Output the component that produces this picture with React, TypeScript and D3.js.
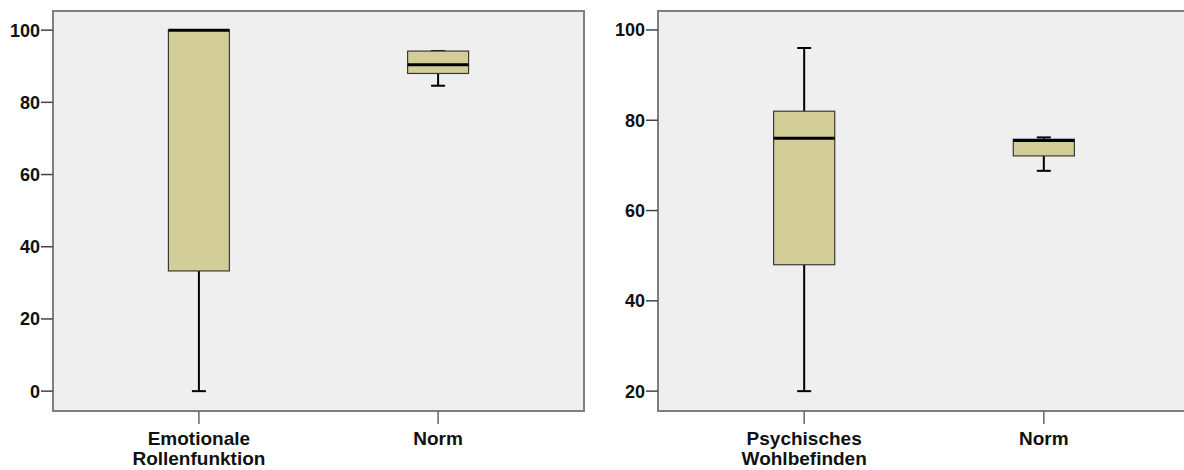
import { useEffect, useRef } from 'react'
import * as d3 from 'd3'

// left panel
const leftLabels = [['Emotionale', 'Rollenfunktion'], ['Norm']]
const leftMin = [0, 84.6]
const leftQ1 = [33.3, 88.0]
const leftMedian = [100, 90.4]
const leftQ3 = [100, 94.2]
const leftMax = [100, 94.2]
const leftTicks = [0, 20, 40, 60, 80, 100]

// right panel
const rightLabels = [['Psychisches', 'Wohlbefinden'], ['Norm']]
const rightMin = [20, 68.8]
const rightQ1 = [48, 72.1]
const rightMedian = [76, 75.5]
const rightQ3 = [82, 75.8]
const rightMax = [96, 76.2]
const rightTicks = [20, 40, 60, 80, 100]

const BOX_FILL = '#d3ce97'
const PLOT_BG = '#efefef'
const FRAME = '#7f7f7f'

interface PanelDef {
    x0: number
    width: number
    labels: string[][]
    min: number[]
    q1: number[]
    median: number[]
    q3: number[]
    max: number[]
    ticks: number[]
    domain: [number, number]
}

export default function App() {
    const svgRef = useRef<SVGSVGElement>(null)

    useEffect(() => {
        if (!svgRef.current) return
        const svg = d3.select(svgRef.current)
        svg.selectAll('*').remove()

        const top = 11
        const bottom = 411

        const panels: PanelDef[] = [
            { x0: 53, width: 531, labels: leftLabels, min: leftMin, q1: leftQ1, median: leftMedian, q3: leftQ3, max: leftMax, ticks: leftTicks, domain: [-5.5, 105.3] },
            { x0: 658, width: 532, labels: rightLabels, min: rightMin, q1: rightQ1, median: rightMedian, q3: rightQ3, max: rightMax, ticks: rightTicks, domain: [15.6, 104.2] },
        ]

        panels.forEach(p => {
            const g = svg.append('g')
            const cats = p.labels.map((_, i) => String(i))
            const x = d3.scalePoint()
                .domain(cats)
                .range([p.x0, p.x0 + p.width])
                .padding(0.61)
            const y = d3.scaleLinear()
                .domain(p.domain)
                .range([bottom, top])

            g.append('rect')
                .attr('x', p.x0)
                .attr('y', top)
                .attr('width', p.width)
                .attr('height', bottom - top)
                .attr('fill', PLOT_BG)
                .attr('stroke', FRAME)
                .attr('stroke-width', 2)

            // y axis ticks
            p.ticks.forEach(t => {
                g.append('line')
                    .attr('x1', p.x0 - 12)
                    .attr('x2', p.x0)
                    .attr('y1', y(t))
                    .attr('y2', y(t))
                    .attr('stroke', '#444')
                    .attr('stroke-width', 1.5)
                g.append('text')
                    .attr('x', p.x0 - 13)
                    .attr('y', y(t))
                    .attr('dy', '0.36em')
                    .attr('text-anchor', 'end')
                    .attr('font-family', 'Liberation Sans, Arial, sans-serif')
                    .attr('font-weight', 'bold')
                    .attr('font-size', '18px')
                    .attr('fill', '#111')
                    .text(t)
            })

            const boxW = x.step() * 0.255
            const capW = 14

            cats.forEach((c, i) => {
                const cx = x(c) || 0
                // x tick
                g.append('line')
                    .attr('x1', cx).attr('x2', cx)
                    .attr('y1', bottom).attr('y2', bottom + 13)
                    .attr('stroke', '#666')
                    .attr('stroke-width', 1.5)
                p.labels[i].forEach((line, k) => {
                    g.append('text')
                        .attr('x', cx)
                        .attr('y', 445 + k * 20)
                        .attr('text-anchor', 'middle')
                        .attr('font-family', 'Liberation Sans, Arial, sans-serif')
                        .attr('font-weight', 'bold')
                        .attr('font-size', '19px')
                        .attr('fill', '#111')
                        .text(line)
                })

                // whiskers
                g.append('line')
                    .attr('x1', cx).attr('x2', cx)
                    .attr('y1', y(p.max[i])).attr('y2', y(p.q3[i]))
                    .attr('stroke', '#000').attr('stroke-width', 2)
                g.append('line')
                    .attr('x1', cx).attr('x2', cx)
                    .attr('y1', y(p.q1[i])).attr('y2', y(p.min[i]))
                    .attr('stroke', '#000').attr('stroke-width', 2)
                ;[p.min[i], p.max[i]].forEach(v => {
                    g.append('line')
                        .attr('x1', cx - capW / 2).attr('x2', cx + capW / 2)
                        .attr('y1', y(v)).attr('y2', y(v))
                        .attr('stroke', '#000').attr('stroke-width', 2)
                })

                // box
                g.append('rect')
                    .attr('x', cx - boxW / 2)
                    .attr('y', y(p.q3[i]))
                    .attr('width', boxW)
                    .attr('height', y(p.q1[i]) - y(p.q3[i]))
                    .attr('fill', BOX_FILL)
                    .attr('stroke', '#3a3a3a')
                    .attr('stroke-width', 1.2)

                // median
                g.append('line')
                    .attr('x1', cx - boxW / 2).attr('x2', cx + boxW / 2)
                    .attr('y1', y(p.median[i])).attr('y2', y(p.median[i]))
                    .attr('stroke', '#000').attr('stroke-width', 3)
            })
        })
    }, [])

    return (
        <svg
            ref={svgRef}
            width={1184}
            height={470}
            style={{ position: 'absolute', left: 0, top: 0, background: '#fff' }}
        />
    )
}
